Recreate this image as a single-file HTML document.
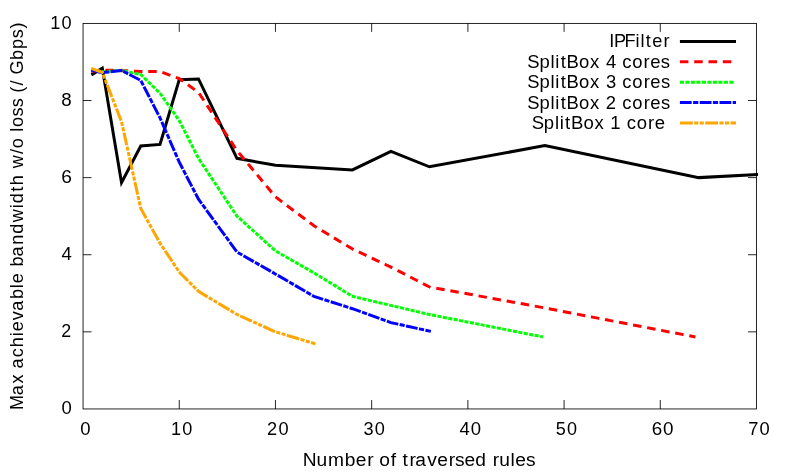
<!DOCTYPE html>
<html><head><meta charset="utf-8"><title>Max achievable bandwidth</title>
<style>html,body{margin:0;padding:0;background:#fff;}svg{display:block;will-change:transform;}text{font-family:"Liberation Sans",sans-serif;fill:#000;font-kerning:none;white-space:pre;}</style>
</head><body>
<svg width="789" height="473" viewBox="0 0 789 473">
<rect x="0" y="0" width="789" height="473" fill="#ffffff"/>
<path d="M179.26,408.95V400.05M179.26,23.40V31.85M275.46,408.95V400.05M275.46,23.40V31.85M371.67,408.95V400.05M371.67,23.40V31.85M467.88,408.95V400.05M467.88,23.40V31.85M564.09,408.95V400.05M564.09,23.40V31.85M660.29,408.95V400.05M660.29,23.40V31.85M83.05,331.84H91.50M756.50,331.84H748.05M83.05,254.73H91.50M756.50,254.73H748.05M83.05,177.62H91.50M756.50,177.62H748.05M83.05,100.51H91.50M756.50,100.51H748.05" fill="none" stroke="#000" stroke-width="0.85"/>
<text transform="translate(0,414.35) scale(0.9966,1)" x="61.64" y="0" font-size="18.6">0</text>
<text transform="translate(0,337.24) scale(0.9606,1)" x="63.90" y="0" font-size="18.6">2</text>
<text transform="translate(0,260.13) scale(0.9967,1)" x="61.63" y="0" font-size="18.6">4</text>
<text transform="translate(0,183.02) scale(1.0315,1)" x="59.38" y="0" font-size="18.6">6</text>
<text transform="translate(0,105.91) scale(1.0074,1)" x="60.92" y="0" font-size="18.6">8</text>
<text transform="translate(0,28.80) scale(0.9754,1)" x="51.53 63.09" y="0" font-size="18.6">10</text>
<text transform="translate(0,435.00) scale(0.9966,1)" x="80.61" y="0" font-size="18.6">0</text>
<text transform="translate(0,435.00) scale(0.9754,1)" x="175.29 186.85" y="0" font-size="18.6">10</text>
<text transform="translate(0,435.00) scale(0.9791,1)" x="272.73 284.40" y="0" font-size="18.6">20</text>
<text transform="translate(0,435.00) scale(0.9769,1)" x="372.07 383.50" y="0" font-size="18.6">30</text>
<text transform="translate(0,435.00) scale(0.9967,1)" x="461.11 472.33" y="0" font-size="18.6">40</text>
<text transform="translate(0,435.00) scale(0.9687,1)" x="573.82 585.44" y="0" font-size="18.6">50</text>
<text transform="translate(0,435.00) scale(1.0137,1)" x="643.07 654.11" y="0" font-size="18.6">60</text>
<text transform="translate(0,435.00) scale(0.9860,1)" x="758.83 770.21" y="0" font-size="18.6">70</text>
<text transform="translate(0,466.10) scale(1.0330,1)" x="293.04 306.31 317.50 333.82 344.40 355.49 361.77 367.22 378.22 383.59 389.71 396.39 402.06 413.49 423.28 434.37 440.56 449.62 460.13 470.80 476.92 483.40 494.30 498.83 509.11" y="0" font-size="18.6">Number of traversed rules</text>
<g transform="translate(23.4,408.4) rotate(-90)"><text transform="translate(0,0.00) scale(0.9727,1)" x="-1.72 13.52 25.56 35.60 41.04 52.53 62.93 74.28 79.27 90.67 100.36 112.43 123.66 128.66 139.36 145.79 156.28 168.26 179.57 191.26 205.83 210.86 222.79 229.54 240.42 246.84 261.42 267.41 278.11 284.30 289.24 300.12 309.54 318.77 324.48 332.03 337.66 343.17 358.10 369.58 380.55 390.69" y="0" font-size="18.6">Max achievable bandwidth w/o loss (/ Gbps)</text></g>
<text transform="translate(0,47.30) scale(0.9754,1)" x="624.62 629.40 640.21 651.55 656.55 662.03 668.60 680.25" y="0" font-size="18.6">IPFilter</text>
<path d="M681.4,41.40H734.5" fill="none" stroke="#000000" stroke-width="3.0" stroke-linecap="square"/>
<text transform="translate(0,67.70) scale(0.9939,1)" x="530.46 542.74 553.81 558.73 564.09 570.02 582.57 593.69 603.62 609.69 620.50 626.12 636.09 647.55 654.25 664.92" y="0" font-size="18.6">SplitBox 4 cores</text>
<path d="M681.4,61.80H734.5" fill="none" stroke="#ff0000" stroke-width="3.0" stroke-linecap="square" stroke-dasharray="5.50,8.80"/>
<text transform="translate(0,88.10) scale(0.9905,1)" x="532.33 544.65 555.74 560.68 566.06 572.03 584.61 595.78 605.72 611.86 622.66 628.32 638.33 649.82 656.55 667.25" y="0" font-size="18.6">SplitBox 3 cores</text>
<path d="M681.4,82.20H734.5" fill="none" stroke="#00ff00" stroke-width="3.0" stroke-linecap="square" stroke-dasharray="1.10,4.40"/>
<text transform="translate(0,108.50) scale(0.9909,1)" x="532.11 544.42 555.51 560.45 565.82 571.79 584.37 595.53 605.47 611.35 622.40 628.06 638.06 649.55 656.28 666.97" y="0" font-size="18.6">SplitBox 2 cores</text>
<path d="M681.4,102.60H734.5" fill="none" stroke="#0000ff" stroke-width="3.0" stroke-linecap="square" stroke-dasharray="8.80,4.40,2.20,4.40"/>
<text transform="translate(0,128.90) scale(0.9977,1)" x="532.90 545.13 556.17 561.08 566.41 572.31 584.81 595.90 605.80 611.74 622.62 628.21 638.14 649.56 656.23" y="0" font-size="18.6">SplitBox 1 core</text>
<path d="M681.4,123.00H734.5" fill="none" stroke="#ffa500" stroke-width="3.0" stroke-linecap="square" stroke-dasharray="9.90,4.40,1.10,4.40,1.10,4.40"/>
<g fill="none" stroke-linecap="square" stroke-linejoin="miter" stroke-miterlimit="10">
<path d="M92.67,74.10L102.29,68.12L121.53,182.63L140.77,146.00L160.02,144.46L179.26,79.69L198.50,78.92L236.98,158.34L275.46,165.28L352.43,169.91L390.91,151.40L429.40,166.82L544.84,145.62L698.78,177.62L756.50,174.54" stroke="#000000" stroke-width="3.0"/>
<path d="M92.67,71.40L102.29,70.05L121.53,70.63L140.77,71.40L160.02,71.59L179.26,78.53L198.50,92.41L236.98,150.63L275.46,196.90L313.95,225.81L352.43,248.95L390.91,267.07L429.40,286.92L544.84,307.94L693.97,336.66" stroke="#ff0000" stroke-width="3.0" stroke-dasharray="5.50,8.80"/>
<path d="M92.67,69.67L102.29,71.79L121.53,70.44L140.77,74.49L160.02,93.18L179.26,120.56L198.50,158.34L236.98,216.17L275.46,250.87L313.95,272.85L352.43,296.37L429.40,314.49L541.48,336.66" stroke="#00ff00" stroke-width="3.0" stroke-dasharray="1.10,4.40"/>
<path d="M92.67,70.44L102.29,72.75L121.53,70.44L140.77,80.46L160.02,117.86L179.26,162.20L198.50,199.21L236.98,252.03L275.46,274.01L313.95,296.37L352.43,308.71L390.91,322.59L429.40,331.07" stroke="#0000ff" stroke-width="3.0" stroke-dasharray="8.80,4.40,2.20,4.40"/>
<path d="M92.67,68.89L102.29,72.36L121.53,121.72L140.77,208.46L160.02,243.16L179.26,272.08L198.50,291.36L236.98,314.49L275.46,331.84L313.95,343.41" stroke="#ffa500" stroke-width="3.0" stroke-dasharray="9.90,4.40,1.10,4.40,1.10,4.40"/>
</g>
<rect x="83.05" y="23.40" width="673.45" height="385.55" fill="none" stroke="#000" stroke-width="0.85"/>
</svg>
</body></html>
